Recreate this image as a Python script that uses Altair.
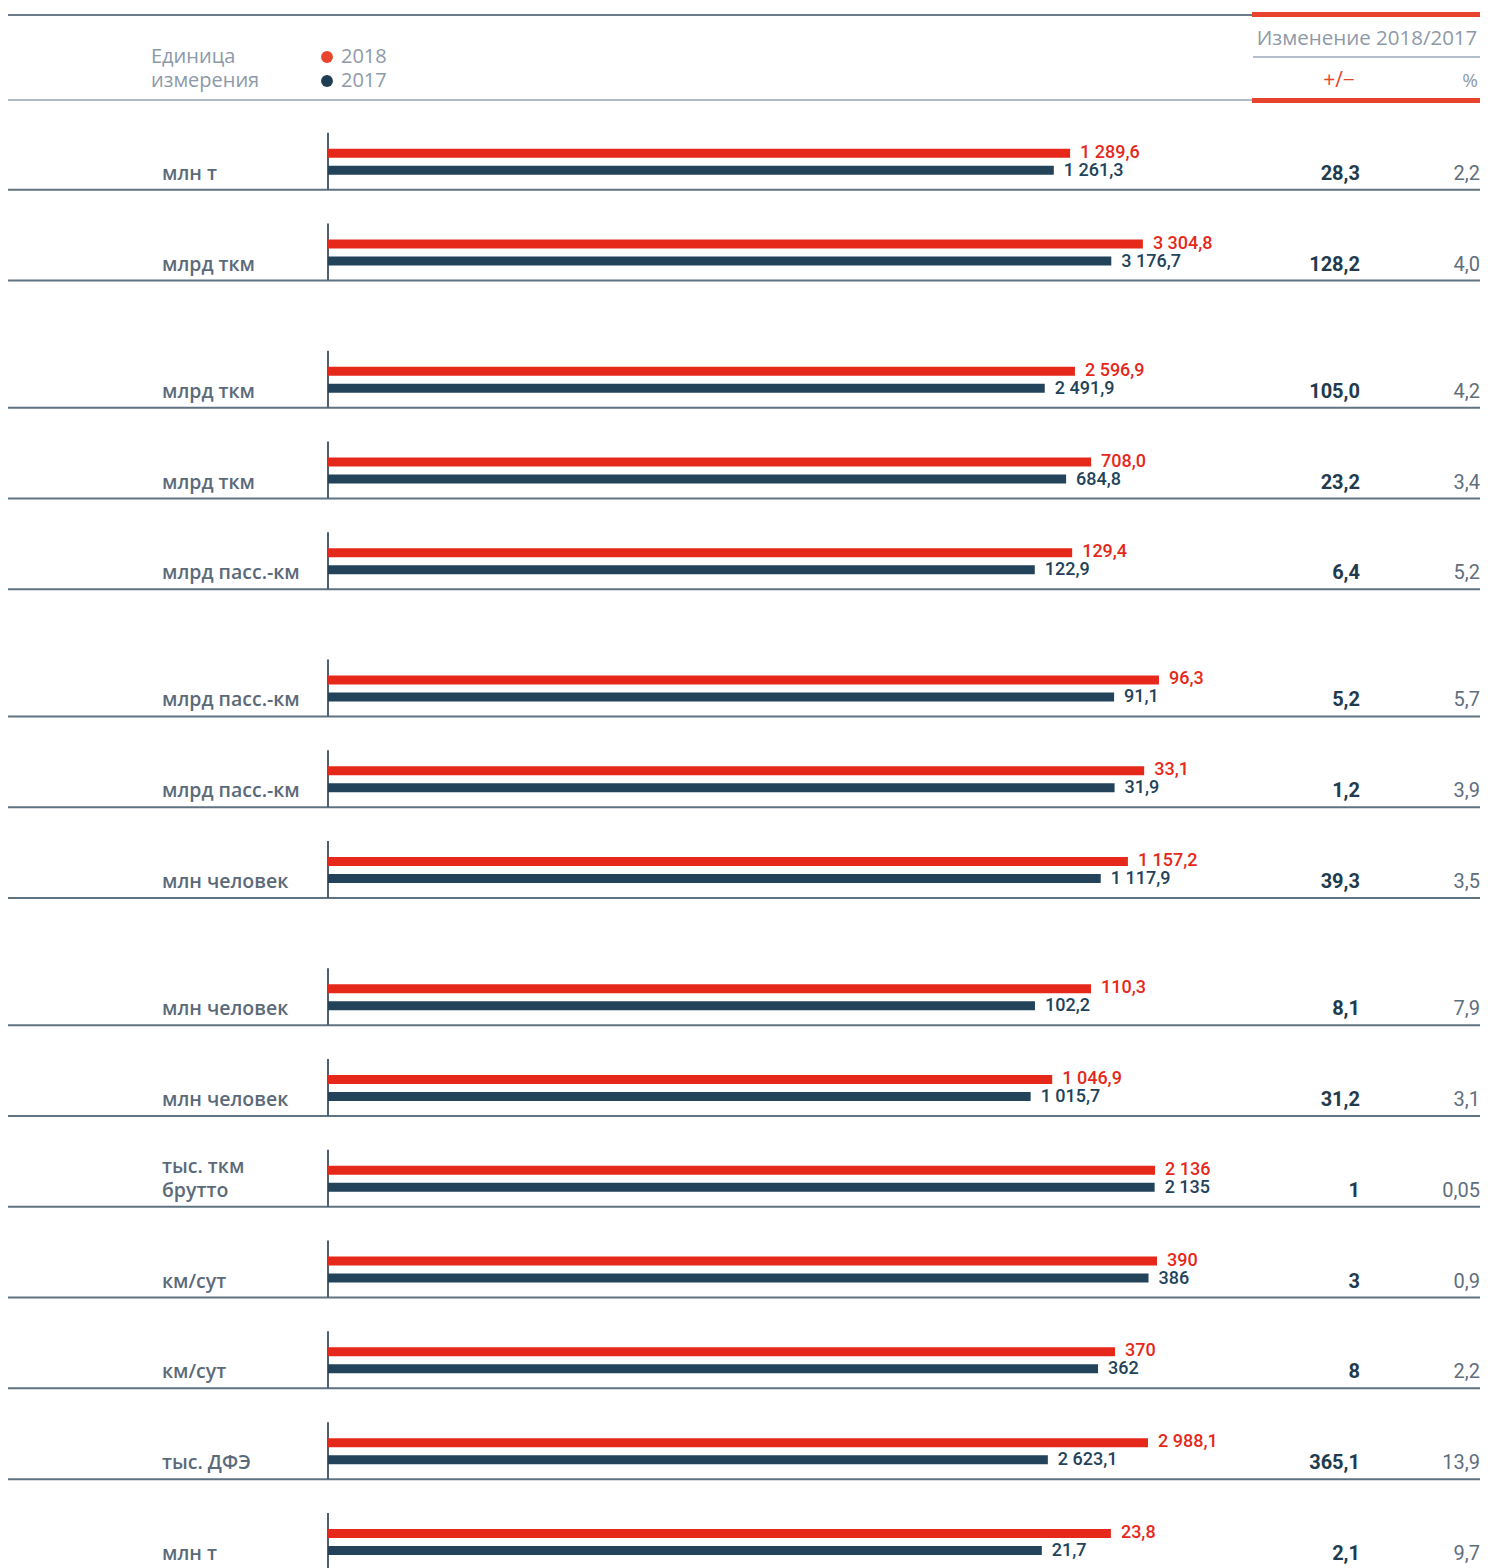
import altair as alt
import pandas as pd

# ---------------- data ----------------
units = ["млн т", "млрд ткм", "млрд ткм", "млрд ткм", "млрд пасс.-км", "млрд пасс.-км",
         "млрд пасс.-км", "млн человек", "млн человек", "млн человек", "тыс. ткм\nбрутто",
         "км/сут", "км/сут", "тыс. ДФЭ", "млн т"]
v2018 = [1289.6, 3304.8, 2596.9, 708.0, 129.4, 96.3, 33.1, 1157.2, 110.3, 1046.9,
         2136, 390, 370, 2988.1, 23.8]
v2017 = [1261.3, 3176.7, 2491.9, 684.8, 122.9, 91.1, 31.9, 1117.9, 102.2, 1015.7,
         2135, 386, 362, 2623.1, 21.7]
change_abs = [28.3, 128.2, 105.0, 23.2, 6.4, 5.2, 1.2, 39.3, 8.1, 31.2, 1, 3, 8, 365.1, 2.1]
change_pct = [2.2, 4.0, 4.2, 3.4, 5.2, 5.7, 3.9, 3.5, 7.9, 3.1, 0.05, 0.9, 2.2, 13.9, 9.7]
# full-scale value of each row's own bar scale
scale_max = [1564, 3650, 3129, 835, 156.5, 104.3, 36.5, 1302, 130.1, 1301,
             2324.5, 423.4, 423.1, 3279.6, 27.36]
section = [0, 0, 1, 1, 1, 2, 2, 2, 3, 3, 3, 3, 3, 3, 3]
years = ["2018", "2017"]
header_unit = "Единица\nизмерения"
header_change = "Изменение 2018/2017"
header_abs = "+/−"
header_pct = "%"

RED = "#e5281a"
RED_H = "#e8432d"
DARK = "#22435a"
GRAY_TXT = "#8d99a8"
NUM_FONT = "Roboto"
LBL_FONT = "Open Sans"

W, H = 1472, 1560
ROW = 90.8  # pixels per row unit


def fmt(v):
    if isinstance(v, int):
        ip, dp = str(v), ""
    else:
        ip, dp = repr(v).split(".")
    ip = f"{int(ip):,}".replace(",", " ")
    return ip + ("," + dp if dp else "")


rows = pd.DataFrame({
    "unit": units,
    "f18": [a / m for a, m in zip(v2018, scale_max)],
    "f17": [a / m for a, m in zip(v2017, scale_max)],
    "lab18": [fmt(v) for v in v2018],
    "lab17": [fmt(v) for v in v2017],
    "cabs": [fmt(v) for v in change_abs],
    "cpct": [fmt(v) for v in change_pct],
})
rows["yb"] = [(i + 1) + 0.4 * s for i, s in enumerate(section)]
rows["ytop"] = rows["yb"] - 57 / ROW
rows["ytext"] = rows["yb"] - rows["unit"].str.count("\n") * 24 / ROW

XS = alt.Scale(domain=[0, 1], range=[320, 1220])
YS = alt.Scale(domain=[-91 / ROW, (H - 91) / ROW], range=[0, H])

base = alt.Chart(rows)
Y = alt.Y("yb:Q", scale=YS, axis=None)

sep = base.mark_rule(color="#5f7282", strokeWidth=2).encode(
    y=Y, x=alt.value(0), x2=alt.value(W))
vaxis = base.mark_rule(color="#4d6071", strokeWidth=2).encode(
    x=alt.value(320), y=alt.Y("ytop:Q", scale=YS, axis=None), y2="yb:Q")
bar18 = base.mark_rule(color=RED, strokeWidth=9, yOffset=-36.5).encode(
    x=alt.X("f18:Q", scale=XS, axis=None), x2=alt.datum(0), y=Y)
bar17 = base.mark_rule(color=DARK, strokeWidth=9, yOffset=-19.5).encode(
    x=alt.X("f17:Q", scale=XS, axis=None), x2=alt.datum(0), y=Y)
lab18 = base.mark_text(align="left", baseline="middle", dx=10, dy=-37, color=RED,
                       fontSize=18, fontWeight=500, font=NUM_FONT).encode(
    x=alt.X("f18:Q", scale=XS, axis=None), y=Y, text="lab18:N")
lab17 = base.mark_text(align="left", baseline="middle", dx=10, dy=-19, color=DARK,
                       fontSize=18, fontWeight=500, font=NUM_FONT).encode(
    x=alt.X("f17:Q", scale=XS, axis=None), y=Y, text="lab17:N")
unit_t = base.mark_text(align="left", baseline="alphabetic", dy=-10, lineBreak="\n",
                        lineHeight=24, fontSize=19.5, fontWeight=600, color="#5b6a79",
                        font=LBL_FONT).encode(
    x=alt.value(154), y=alt.Y("ytext:Q", scale=YS, axis=None), text="unit:N")
abs_t = base.mark_text(align="right", baseline="alphabetic", dy=-10, fontSize=20,
                       fontWeight="bold", color="#213a4e", font=NUM_FONT).encode(
    x=alt.value(1352), y=Y, text="cabs:N")
pct_t = base.mark_text(align="right", baseline="alphabetic", dy=-10, fontSize=20,
                       color="#5f6e7c", font=NUM_FONT).encode(
    x=alt.value(1472), y=Y, text="cpct:N")

one = pd.DataFrame({"k": [0]})


def hline(y, x0, x1, color, w):
    return alt.Chart(one).mark_rule(color=color, strokeWidth=w).encode(
        y=alt.value(y), x=alt.value(x0), x2=alt.value(x1))


def htext(t, x, y, font=LBL_FONT, **kw):
    return alt.Chart(one).mark_text(text=t, font=font, **kw).encode(
        x=alt.value(x), y=alt.value(y))


header = [
    hline(7, 0, 1244, "#6b7b8a", 2),
    hline(6.5, 1244, W, RED_H, 5),
    hline(49, 1245, W, "#b3bfcc", 2),
    hline(92, 0, 1244, "#aebbc9", 2),
    hline(92.5, 1244, W, RED_H, 5),
    htext(header_unit, 143, 55, align="left", baseline="alphabetic", lineBreak="\n",
          lineHeight=24, fontSize=20, color=GRAY_TXT),
    htext(header_change, 1359, 31, align="center", baseline="middle", fontSize=20.5,
          color=GRAY_TXT),
    htext(header_abs, 1331, 73, align="center", baseline="middle", fontSize=21,
          color=RED_H),
    htext(header_pct, 1470, 73, align="right", baseline="middle", fontSize=19,
          color=GRAY_TXT),
]
for k, (yr, col) in enumerate(zip(years, ["#e8432d", "#1f3d52"])):
    yy = 49 + 24 * k
    header.append(alt.Chart(one).mark_circle(color=col, opacity=1, size=140).encode(
        x=alt.value(319), y=alt.value(yy)))
    header.append(htext(yr, 333, yy, align="left", baseline="middle", fontSize=20,
                        color=GRAY_TXT, font=LBL_FONT))

chart = alt.layer(sep, vaxis, bar18, bar17, lab18, lab17, unit_t, abs_t, pct_t,
                  *header).properties(
    width=W, height=H, autosize=alt.AutoSizeParams(type="none"), padding=0
).configure_view(stroke=None)

chart.save("out.html", embed_options={"renderer": "svg", "actions": False})
